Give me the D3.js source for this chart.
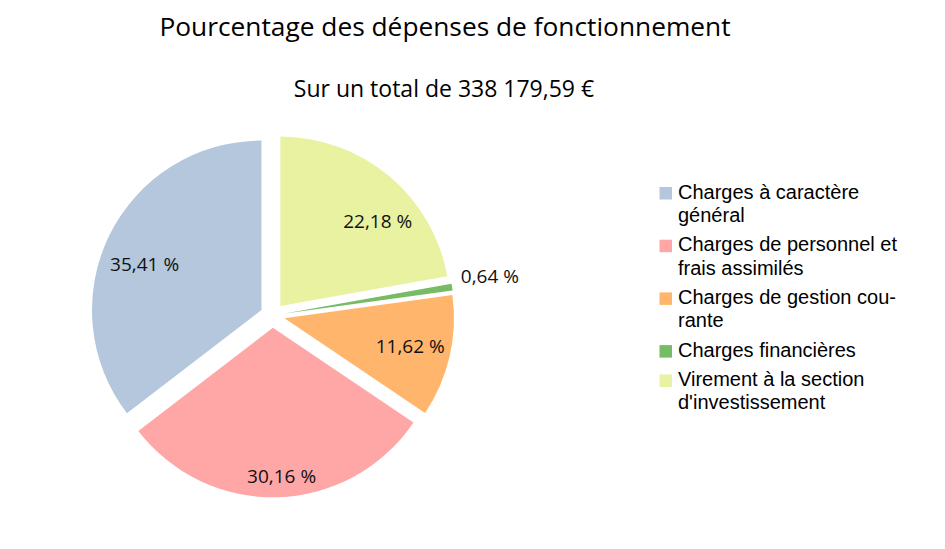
<!DOCTYPE html>
<html><head><meta charset="utf-8">
<script src="https://cdn.jsdelivr.net/npm/d3@7"></script>
<style>body{margin:0;background:#fff}</style>
</head><body>
<svg id="chart" width="945" height="549"></svg>
<script>
const title = "Pourcentage des dépenses de fonctionnement";
const subtitle = "Sur un total de 338 179,59 €";
const categories = ["Charges à caractère général","Charges de personnel et frais assimilés","Charges de gestion courante","Charges financières","Virement à la section d'investissement"];
const legendLines = [["Charges à caractère","général"],["Charges de personnel et","frais assimilés"],["Charges de gestion cou-","rante"],["Charges financières"],["Virement à la section","d'investissement"]];
const values = [35.41, 30.16, 11.62, 0.64, 22.18];
const valueLabels = ["35,41 %","30,16 %","11,62 %","0,64 %","22,18 %"];
const colors = ["#b4c7dc","#ffa6a6","#ffb66c","#77bc65","#e8f2a1"];

const svg = d3.select("#chart");
const cx = 272.5, cy = 315.5, R = 169.5, explode = 12.3;
// label placement: radius from centre and angular nudge (degrees)
const labelR = [138, 160.5, 141, 221, 141.5];
const labelShift = [-4.2, -1.5, -0.7, -1.3, 8.1];

svg.append("text").attr("x",445).attr("y",36).attr("text-anchor","middle")
  .attr("font-family","Open Sans").attr("font-size",26.3).attr("fill","#000").text(title);
svg.append("text").attr("x",444).attr("y",97).attr("text-anchor","middle")
  .attr("font-family","Open Sans").attr("font-size",23).attr("fill","#000").text(subtitle);

const pie = d3.pie().sort(null).value(d=>d).startAngle(0).endAngle(-2*Math.PI);
const arcs = pie(values);
const arc = d3.arc().innerRadius(0).outerRadius(R);
const g = svg.append("g").attr("transform",`translate(${cx},${cy})`);
arcs.forEach((a,i)=>{
  const mid = (a.startAngle+a.endAngle)/2;
  const ox = explode*Math.sin(mid), oy = -explode*Math.cos(mid);
  g.append("path").attr("d",arc(a)).attr("fill",colors[i])
    .attr("transform",`translate(${ox},${oy})`);
});
arcs.forEach((a,i)=>{
  const mid = (a.startAngle+a.endAngle)/2 + labelShift[i]*Math.PI/180;
  const rr = labelR[i];
  g.append("text").attr("x",rr*Math.sin(mid)).attr("y",-rr*Math.cos(mid))
    .attr("dy","0.36em").attr("text-anchor","middle")
    .attr("font-family","Open Sans").attr("font-size",19).attr("fill","#111").text(valueLabels[i]);
});

const leg = svg.append("g");
let y = 198.5;
legendLines.forEach((lines,i)=>{
  leg.append("rect").attr("x",659.5).attr("y",y-11.5).attr("width",12.5).attr("height",12.5).attr("fill",colors[i]);
  lines.forEach((ln,j)=>{
    leg.append("text").attr("x",678).attr("y",y + j*23.3)
      .attr("font-family","Liberation Sans").attr("font-size",20).attr("fill","#000").text(ln);
  });
  y += (lines.length-1)*23.3 + 29.4;
});
</script>
</body></html>
